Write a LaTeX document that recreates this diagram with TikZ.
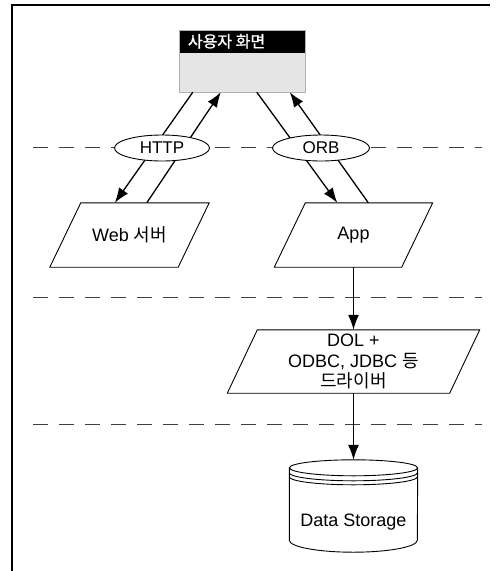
\documentclass[tikz,border=0pt]{standalone}
\usepackage{fontspec}
\setmainfont{Liberation Sans}
\newfontfamily\kr{Noto Sans CJK KR}
\newfontfamily\krbold[FakeBold=1.2]{Noto Sans CJK KR}
\usetikzlibrary{arrows.meta,calc,shapes.geometric}
\begin{document}
\begin{tikzpicture}[x=1pt,y=1pt,
  flow/.style={line width=1.3pt, -{Latex[length=15pt,width=11pt]}},
  sep/.style={line width=0.8pt, black!75, dash pattern=on 15pt off 11pt},
  outline/.style={line width=0.9pt},
  proto/.style={ellipse, draw, line width=0.9pt, fill=white, minimum width=95pt,
    minimum height=26pt, inner sep=0pt, font=\fontsize{17}{19}\selectfont},
  box/.style={rectangle, inner sep=0pt, align=center, font=\fontsize{18}{20.5}\selectfont}
]
\useasboundingbox (0,0) rectangle (496,-571);

% page frame (top and left edges)
\draw[line width=1.1pt] (12,-571) -- (12,-5) -- (490,-5);

% tier separators
\draw[sep] (33,-147) -- (482,-147);
\draw[sep] (33,-297) -- (482,-297);
\draw[sep] (33,-424) -- (482,-424);

% user screen window
\node[minimum width=126pt, minimum height=62pt, inner sep=0pt, fill=gray!20] (screen) at (242,-61) {};
\fill (screen.north west) rectangle ($(screen.north east)+(0,-23)$);
\draw[gray!60, line width=0.6pt] (screen.north west) rectangle (screen.south east);
\node[anchor=west, text=white, font=\krbold\fontsize{16}{18}\selectfont, inner sep=0pt] (title)
  at ($(screen.north west)+(9,-11.5)$) {사용자 화면};

% web server
\node[box, minimum width=159pt, minimum height=64pt] (web) at (129.5,-235) {Web {\kr 서버}};
\draw[outline] ([xshift=31pt]web.north west) -- (web.north east)
  -- ([xshift=-31pt]web.south east) -- (web.south west) -- cycle;

% application server
\node[box, minimum width=158pt, minimum height=64pt] (app) at (353.5,-235) {App};
\draw[outline] ([xshift=31pt]app.north west) -- (app.north east)
  -- ([xshift=-31pt]app.south east) -- (app.south west) -- cycle;

% data access layer
\node[box, minimum width=252pt, minimum height=63pt] (dol) at (353.5,-361.5)
  {DOL +\\ODBC, JDBC {\kr 등}\\{\kr 드라이버}};
\draw[outline] ([xshift=30pt]dol.north west) -- (dol.north east)
  -- ([xshift=-30pt]dol.south east) -- (dol.south west) -- cycle;

% data storage cylinder
\node[minimum width=128pt, minimum height=92pt, inner sep=0pt] (store) at (353.5,-506) {};
\draw[outline] ($(store.north)+(0,-8)$) ellipse [x radius=64, y radius=8];
\draw[outline] ($(store.north west)+(0,-8)$) -- ($(store.south west)+(0,12)$)
  arc[start angle=180, end angle=360, x radius=64, y radius=12]
  -- ($(store.north east)+(0,-8)$);
\draw[outline] ($(store.north west)+(0,-13)$) arc[start angle=180, end angle=360, x radius=64, y radius=8];
\draw[outline] ($(store.north west)+(0,-17)$) arc[start angle=180, end angle=360, x radius=64, y radius=8];
\node[box] (storetext) at ($(store.center)+(0,-16)$) {Data Storage};

% request / response flows
\draw[flow] ([xshift=14pt]screen.south west) -- ([xshift=65pt]web.north west);
\draw[flow] ([xshift=97pt]web.north west) -- ([xshift=42pt]screen.south west);
\draw[flow] ([xshift=78pt]screen.south west) -- ([xshift=63pt]app.north west);
\draw[flow] ([xshift=94pt]app.north west) -- ([xshift=111pt]screen.south west);
\draw[flow] (app.south) -- (dol.north);
\draw[flow] (dol.south) -- (store.north);

% protocols
\node[proto] (http) at (162,-148) {HTTP};
\node[proto, minimum width=97pt] (orb) at (321,-148) {ORB};
\end{tikzpicture}
\end{document}
